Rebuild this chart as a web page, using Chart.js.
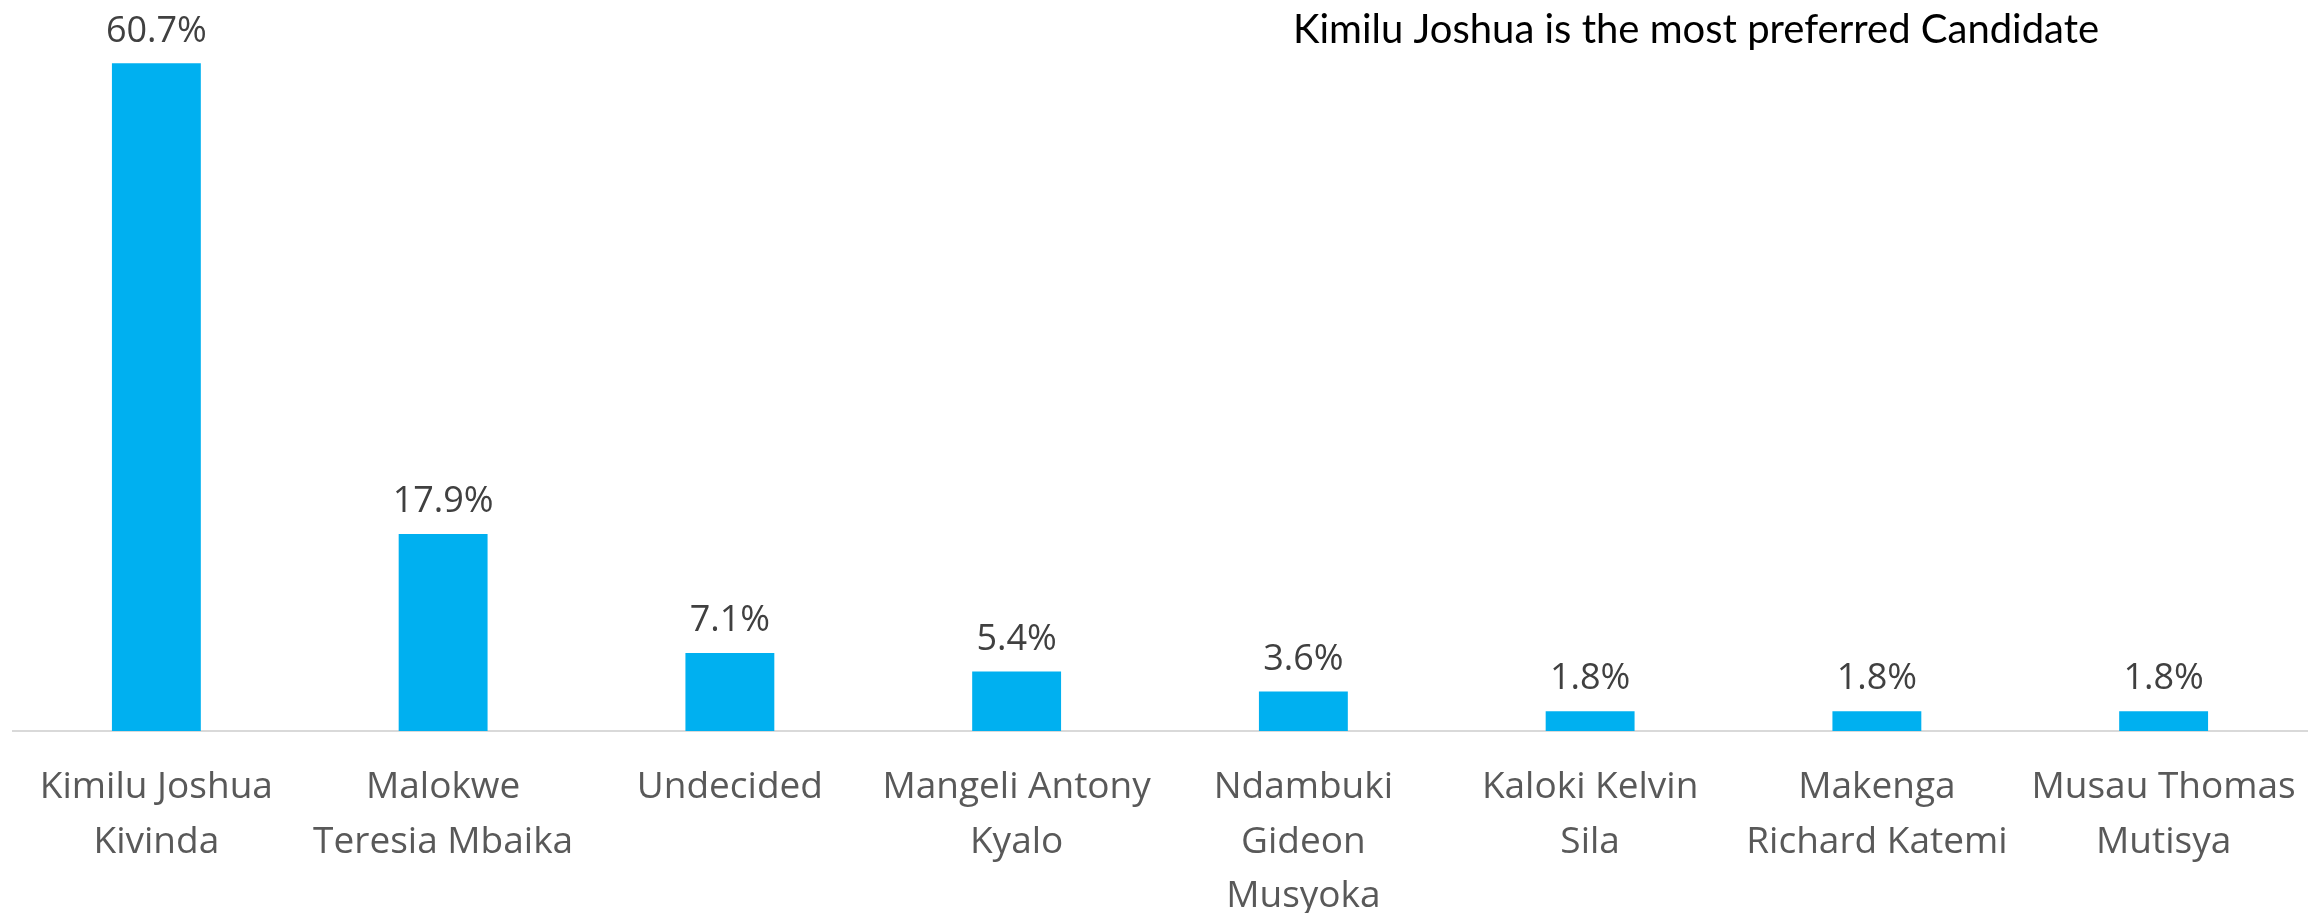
<!DOCTYPE html>
<html>
<head>
<meta charset="utf-8">
<script src="https://cdn.jsdelivr.net/npm/chart.js@4/dist/chart.umd.min.js"></script>
<style>
  html, body { margin: 0; padding: 0; background: #ffffff; }
  #wrap { width: 2315px; height: 913px; position: relative; }
</style>
</head>
<body>
<div id="wrap"><canvas id="c" width="2315" height="913"></canvas></div>
<script>
const categories = [
  ["Kimilu Joshua", "Kivinda"],
  ["Malokwe", "Teresia Mbaika"],
  ["Undecided"],
  ["Mangeli Antony", "Kyalo"],
  ["Ndambuki", "Gideon", "Musyoka"],
  ["Kaloki Kelvin", "Sila"],
  ["Makenga", "Richard Katemi"],
  ["Musau Thomas", "Mutisya"]
];
const values = [60.7, 17.9, 7.1, 5.4, 3.6, 1.8, 1.8, 1.8];
const titleText = "Kimilu Joshua is the most preferred Candidate";

const labelPlugin = {
  id: 'barLabels',
  afterDatasetsDraw(chart) {
    const ctx = chart.ctx;
    const meta = chart.getDatasetMeta(0);
    ctx.save();
    ctx.font = '36px "Open Sans"';
    ctx.fillStyle = '#404040';
    ctx.textAlign = 'center';
    ctx.textBaseline = 'middle';
    meta.data.forEach((bar, i) => {
      ctx.fillText(values[i].toFixed(1) + '%', bar.x, bar.y - 32);
    });
    ctx.restore();
  },
  afterDraw(chart) {
    const ctx = chart.ctx;
    ctx.save();
    ctx.font = '40px Lato';
    ctx.fillStyle = '#000000';
    ctx.textAlign = 'left';
    ctx.textBaseline = 'alphabetic';
    ctx.fillText(titleText, 1293, 43);
    ctx.restore();
  }
};

new Chart(document.getElementById('c'), {
  type: 'bar',
  data: {
    labels: categories,
    datasets: [{
      data: values,
      backgroundColor: '#00B0F0',
      borderWidth: 0,
      categoryPercentage: 1.0,
      barPercentage: 0.31
    }]
  },
  options: {
    responsive: false,
    animation: false,
    devicePixelRatio: 1,
    layout: { padding: { left: 13, right: 8, top: 16, bottom: 0 } },
    plugins: {
      legend: { display: false },
      title: { display: false },
      tooltip: { enabled: false }
    },
    scales: {
      y: {
        display: false,
        min: 0,
        max: 65
      },
      x: {
        grid: { display: false, drawTicks: false },
        border: { display: true, color: '#d9d9d9', width: 2 },
        ticks: {
          color: '#595959',
          font: { family: '"Open Sans"', size: 37, lineHeight: 1.48 },
          padding: 29,
          maxRotation: 0,
          minRotation: 0,
          autoSkip: false
        },
        afterFit(scale) {
          scale.height = 182;
          scale.paddingLeft = 0;
          scale.paddingRight = 0;
        }
      }
    }
  },
  plugins: [labelPlugin]
});
</script>
</body>
</html>
